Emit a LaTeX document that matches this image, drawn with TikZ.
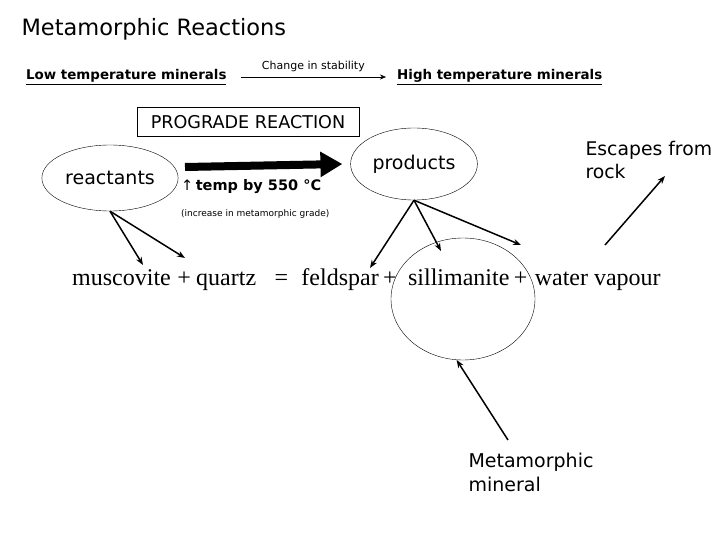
\documentclass[tikz,border=0pt]{standalone}
\usepackage{fontspec}
\setmainfont{DejaVu Sans}
\newfontfamily\eqnfont{Liberation Serif}
\usetikzlibrary{shapes.geometric,arrows.meta,positioning}
\tikzset{mineral/.style={draw, ellipse, thin, minimum width=125pt, minimum height=66pt, font=\fontsize{19}{21}\selectfont}}
\tikzset{ptr/.style={-{Stealth[length=8pt,width=6pt]}, line width=1.5pt}}
\tikzset{eqword/.style={inner sep=0pt, font=\eqnfont\fontsize{24}{28}\selectfont}}
\tikzset{hand/.style={font=\fontsize{19}{24}\selectfont, align=left}}

\begin{document}
\begin{tikzpicture}[x=1pt, y=-1pt]
                    \useasboundingbox (0,0) rectangle (720,540);

                    \node[anchor=west, font=\fontsize{22.5}{26}\selectfont] (title) at (18,29) {Metamorphic Reactions};

                    \node[anchor=west, inner sep=0pt, font=\bfseries\fontsize{13.4}{15}\selectfont] (low) at (26,77) {\underline{Low temperature minerals}};
                    \node[anchor=west, inner sep=0pt, font=\bfseries\fontsize{13.4}{15}\selectfont] (high) at (397,77) {\underline{High temperature minerals}};
                    \draw[-{Stealth[length=6pt,width=5pt]}] ([xshift=14pt]low.east) -- node[above=2pt, font=\fontsize{11}{12}\selectfont] (stab) {Change in stability} ([xshift=-11pt]high.west);

                    \node[draw, thin, minimum width=222pt, minimum height=29pt, font=\fontsize{17.6}{19}\selectfont] (prograde) at (248,122) {PROGRADE REACTION};

                    \node[mineral] (reactants) at (110,178) {reactants};
                    \node[mineral, minimum width=122pt, minimum height=72pt] (products) at (414,164) {products};

                    \coordinate (push) at (185,167);
                    \draw[line width=8pt, -{Triangle[length=22pt,width=24pt]}] (push) -- ([xshift=-8pt]products.west);

                    \node[anchor=west, inner sep=0pt, font=\bfseries\fontsize{14.5}{16}\selectfont] (temp) at (181,187) {{\mdseries ↑}\,temp by 550 °C};
                    \node[anchor=west, inner sep=0pt, font=\fontsize{9}{10}\selectfont] (grade) at (181,214) {(increase in metamorphic grade)};

                    \node[hand, anchor=north west, font=\fontsize{18.8}{23}\selectfont] (escape) at (582,138) {Escapes from\\rock};

                    % the reaction
                    \node[eqword, anchor=base west] (musc) at (72,285) {muscovite};
                    \node[eqword, base right=6pt of musc] (plusA) {+};
                    \node[eqword, base right=5pt of plusA] (quartz) {quartz};
                    \node[eqword, base right=18pt of quartz] (equals) {=};
                    \node[eqword, base right=13pt of equals] (feld) {feldspar};
                    \node[eqword, base right=4pt of feld] (plusB) {+};
                    \node[eqword, base right=11pt of plusB] (sill) {sillimanite};
                    \node[eqword, base right=4pt of sill] (plusC) {+};
                    \node[eqword, base right=7pt of plusC] (water) {water vapour};

                    \node[draw, ellipse, thin, minimum width=144pt, minimum height=122pt] (stone) at (463,299) {};

                    \node[hand, anchor=north west] (newmin) at (465,450) {Metamorphic\\mineral};

                    \coordinate (r1) at (143,265);
                    \coordinate (r2) at (185,258);
                    \coordinate (p1) at (370,268);
                    \coordinate (p2) at (441,251);
                    \coordinate (p3) at (521,245);
                    \coordinate (gas) at (605,245);
                    \coordinate (away) at (665,176);
                    \coordinate (label) at (508,440);

                    \draw[ptr] (reactants.south) -- (r1);
                    \draw[ptr] (reactants.south) -- (r2);

                    \draw[ptr] (products.south) -- (p1);
                    \draw[ptr] (products.south) -- (p2);
                    \draw[ptr] (products.south) -- (p3);

                    \draw[ptr] (gas) -- (away);

                    \draw[ptr] (label) -- (stone.-96);

                 \end{tikzpicture}
\end{document}
